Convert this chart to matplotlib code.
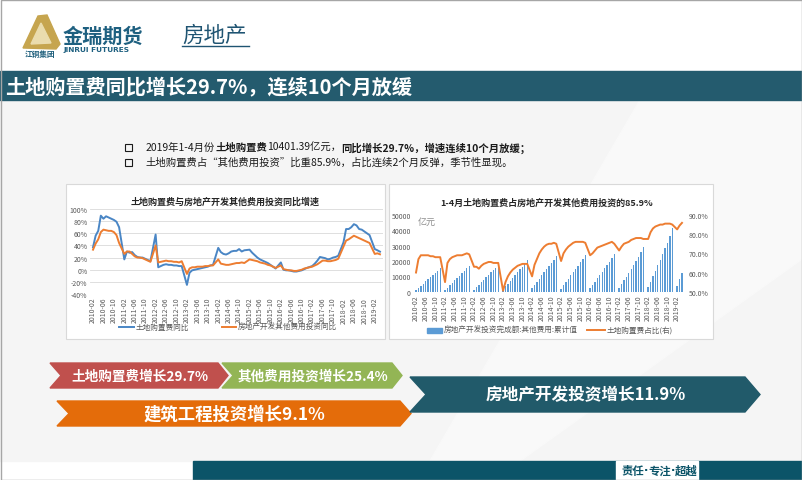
import numpy as np
import matplotlib
matplotlib.use("Agg")
import matplotlib.pyplot as plt
from matplotlib.patches import Rectangle, Polygon

plt.rcParams['font.family'] = ['Noto Sans CJK SC', 'DejaVu Sans']

# ---- data (months Feb..Dec each year, Jan merged into Feb) ----
years = list(range(2010, 2020))

# 土地购置费同比 (%)
land_yoy = [37, 56, 64, 89, 84, 88, 86, 84, 82, 79, 70,
            17, 30, 28, 29, 24, 21, 20, 20, 18, 16, 14,
            58, 4, 6, 8, 9, 8, 8, 7, 7, 6, 6,
            -25, -5, -1, 0, 1, 2, 3, 4, 5, 7, 8,
            36, 29, 26, 25, 27, 30, 31, 31, 34, 30, 32,
            33, 28, 24, 20, 17, 15, 13, 11, 8, 5, 2,
            12, 0, -1, -1, -2, -3, -3, -2, -1, 1, 3,
            6, 10, 15, 21, 20, 19, 17, 18, 20, 21, 23,
            45, 67, 67, 70, 75, 73, 67, 66, 63, 60, 57,
            34, 32, 29.7]

# 房地产开发其他费用投资同比 (%)
other_yoy = [33, 43, 50, 62, 66, 65, 64, 64, 62, 57, 44,
             26, 30, 30, 26, 22, 20, 20, 19, 17, 15, 13,
             40, 12, 13, 14, 15, 14, 14, 13, 13, 12, 14,
             -7, 2, 4, 4, 5, 5, 5, 6, 6, 7, 7,
             17, 10, 9, 8, 8, 9, 10, 11, 11, 12, 11,
             17, 16, 15, 14, 12, 11, 10, 8, 7, 5, 3,
             7, 1, 0, -1, -1, -2, -2, -1, 0, 2, 3,
             5, 7, 9, 12, 15, 15, 14, 14, 15, 16, 18,
             38, 48, 50, 53, 56, 54, 52, 50, 48, 46, 44,
             26, 27, 25.4]

# 房地产开发投资完成额:其他费用:累计值 (亿元)
other_cum = [1200, 2400, 3800, 5200, 6700, 8100, 9500, 10900, 12300, 13700, 15200,
             1300, 2700, 4200, 5800, 7400, 8900, 10500, 12000, 13600, 15200, 16800,
             1400, 2900, 4500, 6100, 7700, 9300, 10900, 12600, 14200, 15700, 17400,
             1500, 3400, 5200, 7100, 9000, 10800, 12700, 14500, 16400, 18300, 20400,
             2100, 4300, 6400, 8500, 10600, 12700, 14800, 16900, 18900, 20900, 23100,
             2000, 4100, 6300, 8500, 10600, 12800, 14900, 17000, 19200, 21300, 23600,
             2100, 4300, 6500, 8700, 10900, 13000, 15200, 17400, 19600, 21800, 24300,
             2400, 4800, 7400, 9900, 12400, 14900, 17500, 20100, 22800, 25600, 29300,
             3000, 6500, 10000, 13600, 17200, 20900, 24500, 28200, 32000, 36000, 41700,
             3600, 8000, 12100]

# 土地购置费占比 (%)
land_share = [60, 67, 69, 69, 69, 69, 68.5, 68.5, 68, 68, 68,
              55, 65, 67, 68, 68.5, 69, 69, 69, 69.5, 70, 69.5,
              63, 63, 62, 63.5, 64.5, 65, 65.5, 65.5, 65, 65, 65,
              50.5, 55, 58, 60, 61.5, 62.5, 63.5, 64, 64.5, 64.5, 64.5,
              58, 64, 67, 70, 72, 73.5, 74.5, 75, 75, 75.5, 75,
              66, 70, 72, 73.5, 74.5, 75.5, 76, 76, 76, 76, 75.5,
              69, 70, 71.5, 73, 73.5, 74, 74.5, 75, 75.5, 76, 75,
              71.5, 73.5, 75, 75.5, 76, 77, 77.5, 78, 78, 78, 77.5,
              77.5, 81, 83, 84, 84.5, 85, 85, 85.5, 85.5, 85.5, 85,
              82.5, 84.5, 85.9]

# month index (0 = 2010-02), January has no data
months = []
for y in years:
    last = 4 if y == 2019 else 12
    for m in range(2, last + 1):
        months.append((y - 2010) * 12 + (m - 2))
tick_pos = list(range(0, 109, 4))
tick_lab = ['%d-%02d' % (2010 + (p + 1) // 12, (p + 1) % 12 + 1) for p in tick_pos]

W, H = 802, 481
fig = plt.figure(figsize=(W / 100, H / 100), dpi=100)
bg = fig.add_axes([0, 0, 1, 1])
bg.set_xlim(0, W)
bg.set_ylim(H, 0)
bg.axis('off')

def box(x0, y0, x1, y1):
    return [x0 / W, 1 - y1 / H, (x1 - x0) / W, (y1 - y0) / H]

# ---- background ----
bg.add_patch(Rectangle((0, 0), W, H, color='white', zorder=0))
bg.add_patch(Rectangle((0, 101), W, 361, color='#f5f5f5', zorder=0))
bg.add_patch(Polygon([(640, 101), (802, 101), (802, 260), (520, 462), (430, 462)],
                     color='#f9f9f9', zorder=0))
bg.add_patch(Rectangle((0.5, 0.5), W - 1, H - 1, fill=False, ec='#a6a6a6', lw=1, zorder=5))

# ---- header ----
bg.add_patch(Polygon([(23, 49), (38, 17), (47, 16), (60, 45), (56, 50)], color='#c6a54f', zorder=2))
bg.add_patch(Polygon([(31, 45), (41, 24), (51, 44)], color='#eadcae', zorder=3))
bg.text(40, 54, '江铜集团', fontsize=5.5, color='#1e5f7c', ha='center', va='center', fontweight='bold')
bg.text(63, 36, '金瑞期货', fontsize=14.5, color='#1e6080', ha='left', va='center', fontweight='bold')
bg.text(63, 50, 'JINRUI FUTURES', fontsize=5.3, color='#1e6080', ha='left', va='center',
        family='DejaVu Sans', fontweight='bold')
bg.text(182, 36, '房地产', fontsize=15.5, color='#1f5472', ha='left', va='center')
bg.plot([182, 249], [46.5, 46.5], color='#1f5472', lw=1)

# ---- title bar ----
bg.add_patch(Rectangle((0, 72), W, 29, color='#245b6e', zorder=2))
bg.text(5, 86.5, '土地购置费同比增长29.7%，连续10个月放缓', fontsize=14.5, color='white',
        fontweight='bold', ha='left', va='center', zorder=3)

# ---- bullets ----
renderer = fig.canvas.get_renderer()

def rich_line(x, y, parts, size, color='#1a1a1a', z=3):
    for s, bold, fam in parts:
        t = bg.text(x, y, s, fontsize=size, fontweight='bold' if bold else 'normal',
                    color=color, ha='left', va='center', family=fam, zorder=z)
        x += t.get_window_extent(renderer=renderer).width
    return x

cjk = ['Noto Sans CJK SC', 'DejaVu Sans']
line1 = [('2019年1-4月份', False, cjk), ('土地购置费', True, cjk), ('10401.39亿元，', False, cjk),
         ('同比增长29.7%，增速连续10个月放缓；', True, cjk)]
line2 = [('土地购置费占“其他费用投资”比重85.9%，占比连续2个月反弹，季节性显现。', False, cjk)]
for yy, parts in [(148, line1), (163, line2)]:
    bg.add_patch(Rectangle((125, yy - 3.5), 7, 7, fill=False, ec='#1a1a1a', lw=0.8))
    rich_line(146, yy, parts, 7.45)

# ---- chart panels ----
for x0, x1 in [(66, 385), (389, 713)]:
    bg.add_patch(Rectangle((x0, 185), x1 - x0, 155, fc='white', ec='#d9d9d9', lw=0.8, zorder=1))

tick_col = '#595959'
blue = '#4a86c5'
orange = '#ed7d31'

# left chart
ax1 = fig.add_axes(box(90.4, 210, 382.6, 295))
ax1.plot(months, land_yoy, color=blue, lw=1.4)
ax1.plot(months, other_yoy, color=orange, lw=1.4)
ax1.set_xlim(-1, 111)
ax1.set_ylim(-40, 100)
ax1.set_yticks(range(-40, 101, 20))
ax1.set_yticklabels(['%d%%' % v for v in range(-40, 101, 20)])
ax1.set_xticks(tick_pos)
ax1.set_xticklabels(tick_lab, rotation=90)
ax1.tick_params(length=0, labelsize=5, labelcolor=tick_col, pad=2)
ax1.grid(axis='y', color='#d9d9d9', lw=0.6)
ax1.set_axisbelow(True)
for s in ax1.spines.values():
    s.set_visible(False)
ax1.patch.set_alpha(0)

bg.text(225, 202, '土地购置费与房地产开发其他费用投资同比增速', fontsize=6.5, fontweight='bold',
        color='#262626', ha='center', va='center', zorder=3)
bg.plot([119, 134], [328, 328], color=blue, lw=1.4, zorder=3)
bg.text(136, 328, '土地购置费同比', fontsize=5.5, color=tick_col, va='center', zorder=3)
bg.plot([222, 236], [328, 328], color=orange, lw=1.4, zorder=3)
bg.text(238, 328, '房地产开发其他费用投资同比', fontsize=5.5, color=tick_col, va='center', zorder=3)

# right chart
ax2 = fig.add_axes(box(413.6, 216, 684.4, 292.7))
ax2.bar(months, other_cum, width=0.55, color='#5b9bd5')
ax2.set_xlim(-1, 111)
ax2.set_ylim(0, 50000)
ax2.set_yticks(range(0, 50001, 10000))
ax2.set_xticks(tick_pos)
ax2.set_xticklabels(tick_lab, rotation=90)
ax2.tick_params(length=0, labelsize=5, labelcolor=tick_col, pad=2)
for s in ax2.spines.values():
    s.set_visible(False)
ax2.patch.set_alpha(0)
ax2r = ax2.twinx()
ax2r.plot(months, land_share, color=orange, lw=1.4)
ax2r.set_ylim(50, 90)
ax2r.set_yticks(range(50, 91, 10))
ax2r.set_yticklabels(['%.1f%%' % v for v in range(50, 91, 10)])
ax2r.tick_params(length=0, labelsize=5, labelcolor=tick_col, pad=3)
for s in ax2r.spines.values():
    s.set_visible(False)

bg.text(547, 203, '1-4月土地购置费占房地产开发其他费用投资的85.9%', fontsize=6.5, fontweight='bold',
        color='#262626', ha='center', va='center', zorder=3)
bg.text(418, 222, '亿元', fontsize=6.5, color='#8c8c8c', va='center', zorder=3)
bg.add_patch(Rectangle((427, 328.5), 15, 5, color='#5b9bd5', zorder=3))
bg.text(444, 331, '房地产开发投资完成额:其他费用:累计值', fontsize=5.5, color=tick_col, va='center', zorder=3)
bg.plot([587, 605], [331, 331], color=orange, lw=1.4, zorder=3)
bg.text(607, 331, '土地购置费占比(右)', fontsize=5.5, color=tick_col, va='center', zorder=3)

# ---- arrows ----
def chevron(x0, x1, tip, notch, top, bot, color, text, size):
    mid = (top + bot) / 2
    bg.add_patch(Polygon([(x0, top), (x1, top), (tip, mid), (x1, bot), (x0, bot), (notch, mid)],
                         color=color, zorder=2))
    bg.text((notch + x1) / 2, mid, text, fontsize=size, color='white', fontweight='bold',
            ha='center', va='center', zorder=3)

chevron(50, 218, 228, 61, 364, 389, '#c0504d', '土地购置费增长29.7%', 9.8)
chevron(222, 392, 402, 233, 364, 389, '#93b555', '其他费用投资增长25.4%', 9.8)
chevron(57, 400, 411, 69, 402, 427, '#e46c0a', '建筑工程投资增长9.1%', 12.5)
chevron(410, 745, 760, 426, 378, 413, '#215a6a', '房地产开发投资增长11.9%', 12)

# ---- footer ----
bg.add_patch(Rectangle((193, 462), W - 193, 19, color='#0b5468', zorder=2))
bg.add_patch(Rectangle((616, 462), 82, 19, color='white', zorder=3))
foot = [('责任', True, cjk), ('·', True, 'DejaVu Sans'), ('专注', True, cjk),
        ('·', True, 'DejaVu Sans'), ('超越', True, cjk)]
rich_line(621, 471.5, foot, 8.2, color='#0b5468', z=4)

fig.savefig('out.png', dpi=100)
